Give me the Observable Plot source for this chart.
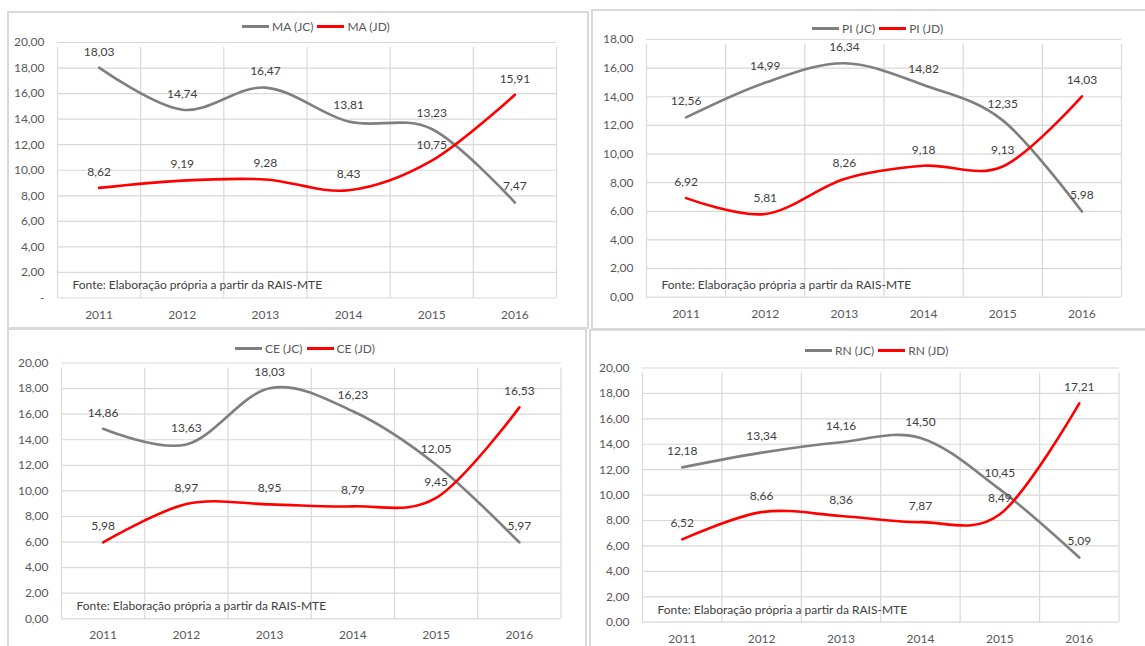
<!DOCTYPE html>
<html>
<head>
<meta charset="utf-8">
<script src="https://cdn.jsdelivr.net/npm/d3@7"></script>
<script src="https://cdn.jsdelivr.net/npm/@observablehq/plot@0.6"></script>
<style>
  body { margin: 0; background: #fff; width: 1145px; height: 646px; overflow: hidden; position: relative; }
  .panel { position: absolute; border: 2px solid #d9d9d9; box-sizing: border-box; background: #fff; }
  .legend { position: absolute; display: flex; align-items: center; font: 12px Lato, sans-serif; color: #595959; white-space: nowrap; }
  .legend .item { display: flex; align-items: center; margin-right: 4px; }
  .legend .sw { display: inline-block; width: 27px; height: 3px; margin-right: 3px; }
  svg.chart { position: absolute; overflow: visible; }
</style>
</head>
<body>
<script>
// Salário médio por estado (JC x JD), 2011–2016
const years = [2011, 2012, 2013, 2014, 2015, 2016];

const maJC = [18.03, 14.74, 16.47, 13.81, 13.23, 7.47];
const maJD = [8.62, 9.19, 9.28, 8.43, 10.75, 15.91];
const piJC = [12.56, 14.99, 16.34, 14.82, 12.35, 5.98];
const piJD = [6.92, 5.81, 8.26, 9.18, 9.13, 14.03];
const ceJC = [14.86, 13.63, 18.03, 16.23, 12.05, 5.97];
const ceJD = [5.98, 8.97, 8.95, 8.79, 9.45, 16.53];
const rnJC = [12.18, 13.34, 14.16, 14.50, 10.45, 5.09];
const rnJD = [6.52, 8.66, 8.36, 7.87, 8.49, 17.21];

const seriesNames = ["JC", "JD"];
const caption = "Fonte: Elaboração própria a partir da RAIS-MTE";

// Layout of the four chart boxes (page pixels)
const panels = [
  {uf: "MA", jc: maJC, jd: maJD, yMax: 20, zeroDash: true,
   box: [7, 11, 582, 318], plot: [57, 42, 556, 297.5], legend: [242, 27]},
  {uf: "PI", jc: piJC, jd: piJD, yMax: 18, zeroDash: false,
   box: [591, 9, 560, 321], plot: [646, 39, 1121, 296.7], legend: [812, 29]},
  {uf: "CE", jc: ceJC, jd: ceJD, yMax: 20, zeroDash: false,
   box: [7, 328, 580, 330], plot: [61, 362.5, 560.5, 618.3], legend: [235, 349]},
  {uf: "RN", jc: rnJC, jd: rnJD, yMax: 20, zeroDash: false,
   box: [589, 329, 560, 330], plot: [642, 367.5, 1118.5, 621.7], legend: [805, 351]}
];

const colors = {JC: "#7f7f7f", JD: "#ff0000"};
const ptBR = d3.formatLocale({decimal: ",", thousands: ".", grouping: [3], currency: ["R$", ""]});
const fmt2 = ptBR.format(".2f");
const font = "Lato, sans-serif";

for (const p of panels) {
  const [bx, by, bw, bh] = p.box;
  const [l, t, r, b] = p.plot;

  const frame = document.createElement("div");
  frame.className = "panel";
  Object.assign(frame.style, {left: bx + "px", top: by + "px", width: bw + "px", height: bh + "px"});
  document.body.appendChild(frame);

  const rows = (vals, s) => years.map((year, i) => ({year, value: vals[i], series: s}));
  const jc = rows(p.jc, "JC");
  const jd = rows(p.jd, "JD");
  const yTicks = d3.range(0, p.yMax + 1, 2);
  const edges = [...years.map(y => y - 0.5), years[years.length - 1] + 0.5];

  const chart = Plot.plot({
    width: bw,
    height: bh,
    marginLeft: l - bx,
    marginTop: t - by,
    marginRight: bx + bw - r,
    marginBottom: by + bh - b,
    x: {domain: [years[0] - 0.5, years[years.length - 1] + 0.5], label: null},
    y: {domain: [0, p.yMax], label: null},
    style: {fontFamily: font, fontSize: "12px", color: "#595959", background: "transparent", overflow: "visible"},
    marks: [
      Plot.ruleY(yTicks, {stroke: "#d9d9d9", strokeWidth: 1.2, strokeOpacity: 1}),
      Plot.ruleX(edges, {y1: 0, y2: p.yMax, insetBottom: -5, stroke: "#d9d9d9", strokeWidth: 1.2, strokeOpacity: 1}),
      Plot.axisY(yTicks, {
        tickSize: 0, tickPadding: 13, fontSize: 12, label: null,
        tickFormat: d => (d === 0 && p.zeroDash ? "-" : fmt2(d))
      }),
      Plot.axisX(years, {tickSize: 0, tickPadding: 12, fontSize: 12, label: null, tickFormat: d => String(d)}),
      Plot.text([caption], {
        frameAnchor: "bottom-left", textAnchor: "start", lineAnchor: "middle",
        dx: 15, dy: -12.5, fontSize: 12, fill: "#404040"
      }),
      Plot.line(jc, {x: "year", y: "value", stroke: colors.JC, strokeWidth: 2.6, curve: "cardinal"}),
      Plot.line(jd, {x: "year", y: "value", stroke: colors.JD, strokeWidth: 2.6, curve: "cardinal"}),
      Plot.text([...jc, ...jd], {
        x: "year", y: "value", text: d => fmt2(d.value),
        dy: -16, fontSize: 12, fill: "#404040"
      })
    ]
  });
  chart.classList.add("chart");
  Object.assign(chart.style, {left: bx + "px", top: by + "px"});
  document.body.appendChild(chart);

  const legend = document.createElement("div");
  legend.className = "legend";
  Object.assign(legend.style, {left: p.legend[0] + "px", top: (p.legend[1] - 8) + "px"});
  for (const s of seriesNames) {
    const item = document.createElement("span");
    item.className = "item";
    const sw = document.createElement("span");
    sw.className = "sw";
    sw.style.background = colors[s];
    item.appendChild(sw);
    item.appendChild(document.createTextNode(`${p.uf} (${s})`));
    legend.appendChild(item);
  }
  document.body.appendChild(legend);
}
</script>
</body>
</html>
